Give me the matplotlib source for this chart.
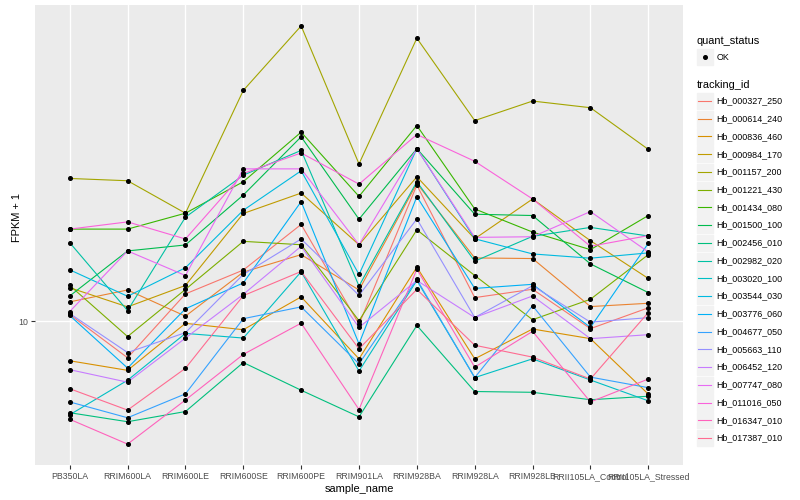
import numpy as np
import matplotlib
matplotlib.use("Agg")
import matplotlib.pyplot as plt
from matplotlib.patches import Rectangle
from matplotlib.lines import Line2D
from matplotlib.ticker import NullLocator

plt.rcParams['font.family'] = ['Liberation Sans', 'DejaVu Sans']

# --- data (FPKM + 1) ---
samples = ["PB350LA", "RRIM600LA", "RRIM600LE", "RRIM600SE", "RRIM600PE",
           "RRIM901LA", "RRIM928BA", "RRIM928LA", "RRIM928LB",
           "RRII105LA_Control", "RRII105LA_Stressed"]

tracking_ids = ["Hb_000327_250", "Hb_000614_240", "Hb_000836_460", "Hb_000984_170",
                "Hb_001157_200", "Hb_001221_430", "Hb_001434_080", "Hb_001500_100",
                "Hb_002456_010", "Hb_002982_020", "Hb_003020_100", "Hb_003544_030",
                "Hb_003776_060", "Hb_004677_050", "Hb_005663_110", "Hb_006452_120",
                "Hb_007747_080", "Hb_011016_050", "Hb_016347_010", "Hb_017387_010"]

hb_000327_250 = [10.41, 8.10, 11.73, 13.47, 17.55, 9.84, 22.04, 11.48, 12.05, 9.59, 10.82]
hb_000614_240 = [11.20, 12.00, 10.31, 13.31, 14.73, 12.00, 22.26, 14.45, 14.40, 10.90, 11.11]
hb_000836_460 = [7.96, 7.53, 9.89, 9.53, 11.53, 8.05, 13.70, 8.05, 9.57, 9.05, 6.56]
hb_000984_170 = [12.16, 10.88, 12.32, 18.70, 21.05, 15.60, 23.13, 16.15, 20.34, 15.97, 12.83]
hb_001157_200 = [22.91, 22.61, 18.73, 38.17, 55.49, 24.93, 51.67, 32.05, 35.89, 34.53, 27.12]
hb_001221_430 = [12.32, 9.16, 12.04, 15.91, 15.60, 10.04, 17.01, 13.05, 10.10, 11.37, 14.73]
hb_001434_080 = [17.08, 17.08, 18.73, 22.48, 29.97, 20.65, 31.14, 19.20, 16.79, 15.16, 18.48]
hb_001500_100 = [11.59, 15.05, 15.58, 20.81, 29.17, 18.09, 27.23, 18.62, 18.48, 13.96, 11.82]
hb_002456_010 = [5.89, 5.59, 5.93, 7.88, 6.71, 5.75, 9.77, 6.66, 6.63, 6.35, 6.48]
hb_002982_020 = [15.79, 10.65, 18.30, 23.35, 26.96, 12.28, 22.48, 14.18, 16.38, 17.25, 16.41]
hb_003020_100 = [5.82, 7.11, 9.33, 9.08, 13.34, 7.50, 12.68, 7.22, 8.05, 7.12, 6.31]
hb_003544_030 = [13.49, 11.57, 13.65, 19.05, 23.95, 13.13, 27.23, 16.15, 14.79, 14.43, 14.88]
hb_003776_060 = [10.35, 7.63, 10.76, 12.50, 20.03, 8.78, 20.62, 12.11, 12.40, 9.66, 15.73]
hb_004677_050 = [6.27, 5.72, 6.57, 10.16, 10.88, 7.82, 12.76, 7.22, 10.95, 7.24, 6.81]
hb_005663_110 = [10.47, 8.35, 9.37, 13.13, 16.13, 11.63, 18.12, 10.23, 12.30, 9.96, 10.22]
hb_006452_120 = [7.56, 7.03, 9.08, 11.70, 15.46, 9.66, 12.68, 10.23, 11.59, 9.05, 9.26]
hb_007747_080 = [10.59, 15.05, 13.05, 24.22, 24.22, 15.60, 27.23, 16.28, 16.34, 18.91, 14.96]
hb_011016_050 = [17.08, 17.81, 16.13, 23.58, 26.56, 22.17, 29.56, 25.31, 20.34, 15.46, 16.45]
hb_016347_010 = [5.67, 4.91, 6.34, 8.26, 9.90, 6.00, 13.54, 7.67, 9.44, 6.27, 7.16]
hb_017387_010 = [6.77, 5.98, 7.62, 11.61, 13.36, 8.53, 12.04, 8.71, 8.13, 7.16, 10.53]

series = [hb_000327_250, hb_000614_240, hb_000836_460, hb_000984_170, hb_001157_200,
          hb_001221_430, hb_001434_080, hb_001500_100, hb_002456_010, hb_002982_020,
          hb_003020_100, hb_003544_030, hb_003776_060, hb_004677_050, hb_005663_110,
          hb_006452_120, hb_007747_080, hb_011016_050, hb_016347_010, hb_017387_010]

# ggplot2 hue palette, 20 levels
colors = ["#F8766D", "#EA8331", "#D89000", "#C09B00", "#A3A500", "#7CAE00", "#39B600",
          "#00BB4E", "#00BF7D", "#00C1A3", "#00BFC4", "#00BAE0", "#00B0F6", "#35A2FF",
          "#9590FF", "#C77CFF", "#E76BF3", "#FA62DB", "#FF62BC", "#FF6C91"]

W, H = 800, 500
fig = plt.figure(figsize=(W / 100, H / 100), dpi=100)
ax = fig.add_axes([35 / W, 35 / H, 648 / W, 460 / H])
ax.set_facecolor("#EBEBEB")

xpos = np.arange(len(samples))
for vals, col in zip(series, colors):
    ax.plot(xpos, vals, color=col, lw=0.8, zorder=2)
for vals in series:
    ax.plot(xpos, vals, ls="none", marker="o", ms=2.6, color="black", zorder=3)

ax.set_yscale("log")
lo = np.log10(min(min(v) for v in series))
hi = np.log10(max(max(v) for v in series))
pad = 0.05 * (hi - lo)
ax.set_ylim(10 ** (lo - pad), 10 ** (hi + pad))
ax.set_xlim(-0.6, len(samples) - 0.4)

ax.set_yticks([10])
ax.set_yticklabels(["10"])
ax.yaxis.set_minor_locator(NullLocator())
ax.set_xticks(xpos)
ax.set_xticklabels(samples)
ax.grid(True, which="major", color="white", lw=1.0)
ax.set_axisbelow(True)
for s in ax.spines.values():
    s.set_visible(False)
ax.tick_params(length=2.7, width=0.8, color="#333333", labelcolor="#4D4D4D",
               labelsize=6.3, pad=2.3)

fig.text(359 / W, 1 - 489 / H, "sample_name", fontsize=7.9, ha="center", va="center")
fig.text(16.5 / W, 1 - 218 / H, "FPKM + 1", fontsize=7.9, rotation=90,
         ha="center", va="center")

# --- legends, drawn by hand in ggplot style ---
def fx(px):
    return px / W

def fy(py):
    return 1 - py / H

key_w = 16.3
key_x = 696.7
fig.text(fx(key_x), fy(41), "quant_status", fontsize=7.9, ha="left", va="center")
fig.patches.append(Rectangle((fx(key_x), fy(57 + key_w / 2)), key_w / W, key_w / H,
                             transform=fig.transFigure, color="#F2F2F2", zorder=1))
fig.lines.append(Line2D([fx(key_x + key_w / 2)], [fy(57)], marker="o", ms=2.6,
                        color="black", ls="none", transform=fig.transFigure))
fig.text(fx(716.5), fy(57), "OK", fontsize=6.4, ha="left", va="center")

fig.text(fx(key_x), fy(85), "tracking_id", fontsize=7.9, ha="left", va="center")
step = 17.74
for i, (name, col) in enumerate(zip(tracking_ids, colors)):
    yc = 101 + i * step
    fig.patches.append(Rectangle((fx(key_x), fy(yc + key_w / 2)), key_w / W, key_w / H,
                                 transform=fig.transFigure, color="#F2F2F2", zorder=1))
    fig.lines.append(Line2D([fx(key_x + 1.7), fx(key_x + key_w - 1.7)], [fy(yc), fy(yc)],
                            color=col, lw=0.8, transform=fig.transFigure))
    fig.text(fx(716.5), fy(yc), name, fontsize=6.4, ha="left", va="center")

fig.savefig("out.png", dpi=100)
